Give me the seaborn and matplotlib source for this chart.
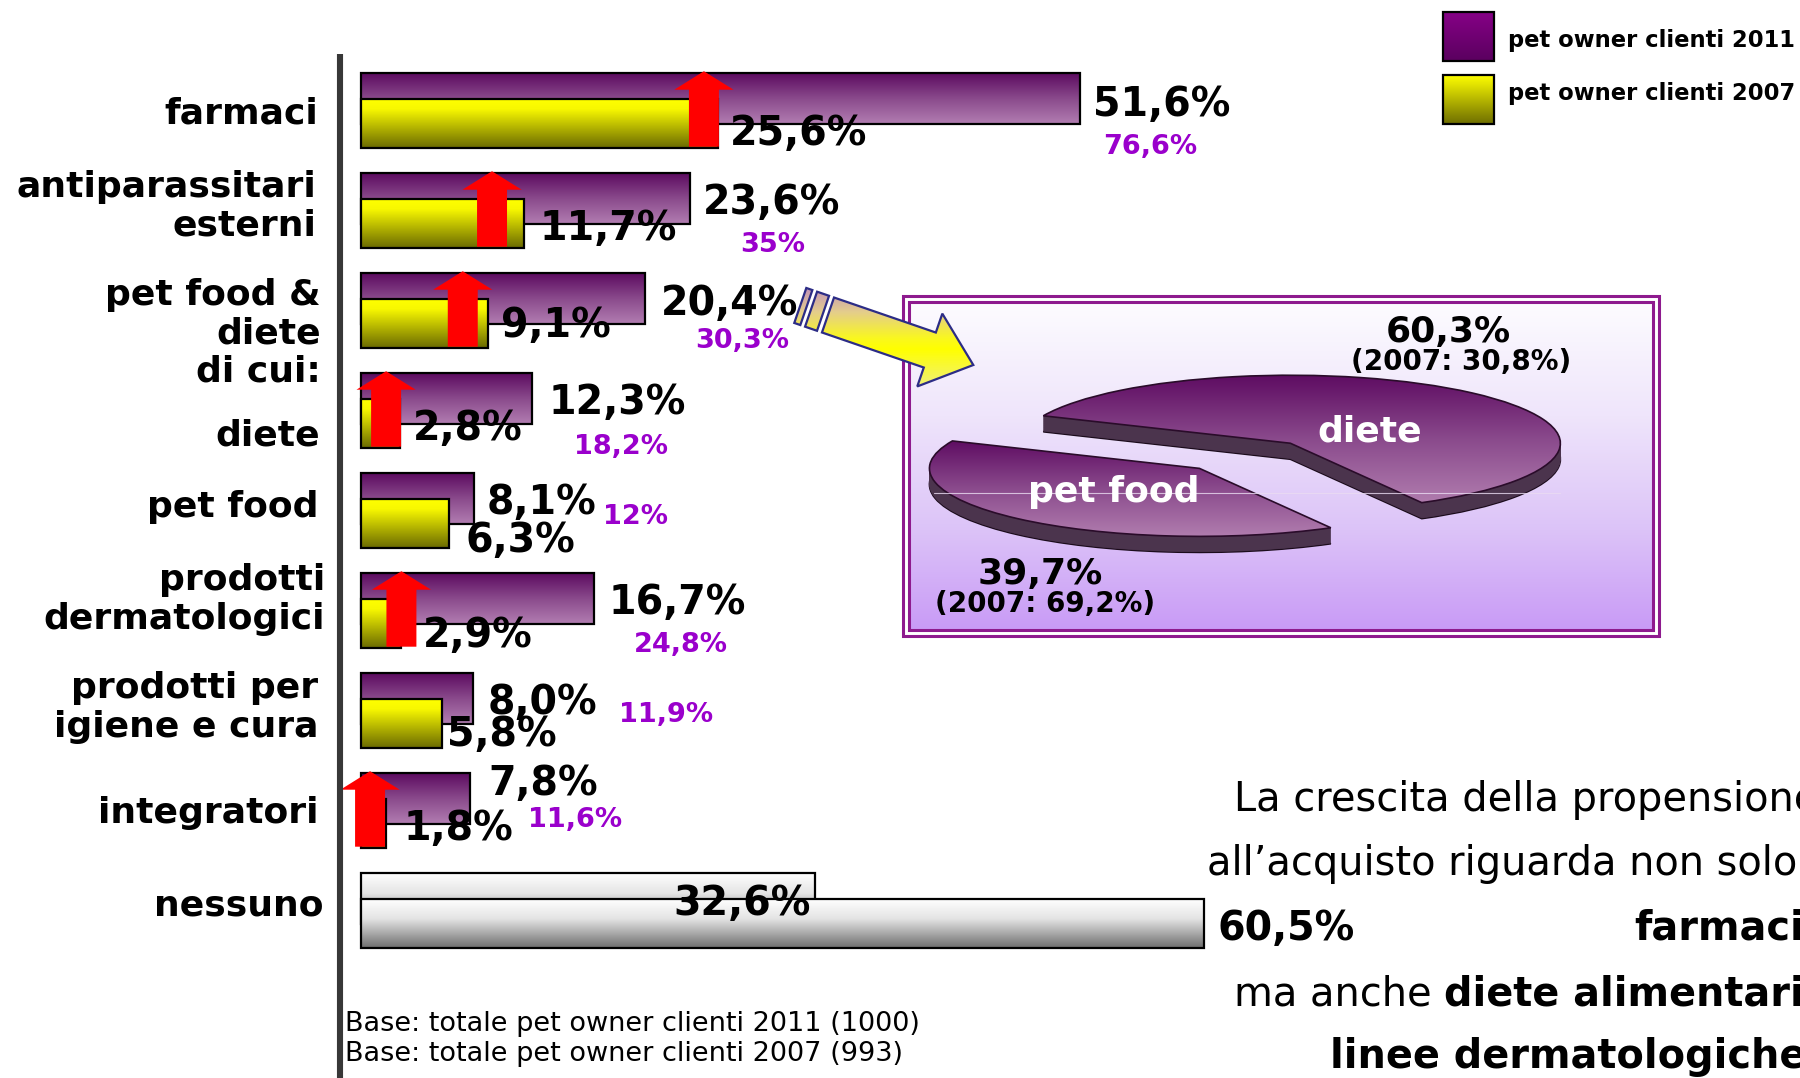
import numpy as np
import pandas as pd
import matplotlib
matplotlib.use("Agg")
import matplotlib.pyplot as plt
from matplotlib.colors import LinearSegmentedColormap
from matplotlib.patches import Rectangle, Polygon, FancyArrow
import seaborn as sns

sns.set_style("white")
plt.rcParams["font.family"] = ["DejaVu Sans"]

# ---------------- data ----------------
category_lines = [
    ["farmaci"],
    ["antiparassitari", "esterni"],
    ["pet food &", "diete", "di cui:"],
    ["diete"],
    ["pet food"],
    ["prodotti", "dermatologici"],
    ["prodotti per", "igiene e cura"],
    ["integratori"],
    ["nessuno"],
]
categories = [" ".join(c) for c in category_lines]
clienti_2011 = [51.6, 23.6, 20.4, 12.3, 8.1, 16.7, 8.0, 7.8, 32.6]
clienti_2007 = [25.6, 11.7, 9.1, 2.8, 6.3, 2.9, 5.8, 1.8, 60.5]
secondary_2011 = [76.6, 35, 30.3, 18.2, 12, 24.8, 11.9, 11.6]

pie_labels = ["diete", "pet food"]
pie_2011 = [60.3, 39.7]
pie_2007 = [30.8, 69.2]

legend_labels = ["pet owner clienti 2011", "pet owner clienti 2007"]
base_notes = ["Base: totale pet owner clienti 2011 (1000)",
              "Base: totale pet owner clienti 2007 (993)"]


def fmt1(v):
    return f"{v:.1f}".replace(".", ",") + "%"


def fmtg(v):
    return f"{v:g}".replace(".", ",") + "%"


# ---------------- layout (pixels) ----------------
W, H = 1800, 1078
X0, PX = 361.0, 13.94          # pixel of 0 % and pixels per percent point
ROW0, ROW = 72.7, 100.0        # top of first row, row pitch
H11, OFF07, H07 = 51.0, 26.5, 48.5

# growth arrows (percent position along the bar, None = no arrow)
arrow_at = [24.6, 9.4, 7.3, 1.8, None, 2.9, None, 0.65, None]
# label placement tweaks
lab11_dx = [13, 13, 15, 15.8, 12.7, 14.3, 14.8, 18.6, -5]
lab11_dy = [43, 41, 42, 41, 41, 41.5, 41, 22, 42.5]
lab07_dx = [12, 15.6, 13, 13.3, 16.7, 21.9, 4.8, 17.3, 13.3]
lab07_dy = [72.3, 67.3, 64, 67.3, 79, 74, 73.3, 67.3, 67.7]
sec_pos = [(70, "center", 81), (83, "center", 79), (97, "center", 75), (88.5, "center", 81),
           (129, "left", 51), (87, "center", 79), (146, "left", 49), (58, "left", 54)]
cat_x = [318, 316.5, 321, 320, 318.3, 325, 318.3, 318.3, 323.3]
cat_base = [124, 196.7, 304.5, 445, 516.7, 590, 698, 822.7, 915]
cat_lsp = 38.5

purple_cm = LinearSegmentedColormap.from_list("p", ["#5c0b60", "#8a4a8c", "#b27eb2"])
yellow_cm = LinearSegmentedColormap.from_list("y", [(0, "#ffff00"), (0.2, "#f8f800"), (1, "#6a6a00")])
gray_cm = LinearSegmentedColormap.from_list("g", [(0, "#ffffff"), (0.4, "#e4e4e4"), (1, "#6e6e6e")])
leg_p_cm = LinearSegmentedColormap.from_list("lp", ["#860086", "#5a005f"])
leg_y_cm = LinearSegmentedColormap.from_list("ly", ["#ffff00", "#6e6e00"])
box_cm = LinearSegmentedColormap.from_list(
    "b", [(0, "#fdfcff"), (0.35, "#efe5fb"), (0.7, "#dcc3f8"), (1, "#c99bf6")])
pie_cm = LinearSegmentedColormap.from_list("pie", ["#5e0c62", "#8a4a8c", "#b07cae"])
arrow_cm = LinearSegmentedColormap.from_list(
    "a", [(0, "#be8cbe"), (0.25, "#e4cd8c"), (0.5, "#faf81e"), (0.6, "#ffff00"), (1, "#eeee8c")])
GRAD = np.linspace(0, 1, 256).reshape(-1, 1)

fig = plt.figure(figsize=(W / 100, H / 100), dpi=100)
fig.patch.set_facecolor("white")


def pixel_axes(z):
    a = fig.add_axes([0, 0, 1, 1], zorder=z)
    a.set_xlim(0, W)
    a.set_ylim(H, 0)
    a.axis("off")
    return a


ax_bg = pixel_axes(0)
ax_bar = fig.add_axes([0, 0, 1, 1], zorder=1)
ax_fg = pixel_axes(3)

# ---------------- bars ----------------
n = len(categories)
rows = np.arange(n)
row_top = ROW0 + ROW * rows
df = pd.DataFrame({
    "categoria": categories,
    "v2011": clienti_2011,
    "v2007": clienti_2007,
    "y2011": row_top + H11 / 2,
    "y2007": row_top + OFF07 + H07 / 2,
})

k0 = len(ax_bar.patches)
sns.barplot(data=df, x="v2011", y="y2011", orient="y", native_scale=True,
            width=H11 / ROW, color="#7a3a7a", edgecolor="black", linewidth=1.6,
            errorbar=None, ax=ax_bar)
bars11 = list(ax_bar.patches[k0:])
k0 = len(ax_bar.patches)
sns.barplot(data=df, x="v2007", y="y2007", orient="y", native_scale=True,
            width=H07 / ROW, color="#cccc00", edgecolor="black", linewidth=1.6,
            errorbar=None, ax=ax_bar)
bars07 = list(ax_bar.patches[k0:])


def gradient_fill(ax, patch, cmap, z):
    x0, y0 = patch.get_x(), patch.get_y()
    w, h = patch.get_width(), patch.get_height()
    ax.imshow(GRAD, cmap=cmap, extent=(x0, x0 + w, y0 + h, y0), origin="upper",
              aspect="auto", interpolation="bilinear", zorder=z)
    patch.set_facecolor("none")
    patch.set_zorder(z + 0.1)


def row_of(patch, offset):
    return int(round((patch.get_y() + patch.get_height() / 2 - ROW0 - offset) / ROW))


for p in bars11:
    r = row_of(p, H11 / 2)
    gradient_fill(ax_bar, p, gray_cm if r == n - 1 else purple_cm, 2.0)
for p in bars07:
    r = row_of(p, OFF07 + H07 / 2)
    gradient_fill(ax_bar, p, gray_cm if r == n - 1 else yellow_cm, 3.0)

# red growth arrows
for i, ax_pos in enumerate(arrow_at):
    if ax_pos is None:
        continue
    y_bot = row_top[i] + OFF07 + H07 - 1
    y_tip = row_top[i] - 1.5
    ax_bar.add_patch(FancyArrow(ax_pos, y_bot, 0, y_tip - y_bot, width=2.15,
                                head_width=4.25, head_length=18.5,
                                length_includes_head=True, color="#ff0000",
                                linewidth=0, zorder=4))

ax_bar.set_xlim((0 - X0) / PX, (W - X0) / PX)
ax_bar.set_ylim(H, 0)
ax_bar.axis("off")

# vertical axis line
ax_fg.plot([340.3, 340.3], [54, H], color="#383838", lw=4.4, solid_capstyle="butt")


def txt(x, y, s, size, weight="bold", color="black", ha="left", va="baseline", ax=ax_fg, **kw):
    return ax.text(x, y, s, fontsize=size, fontweight=weight, color=color,
                   ha=ha, va=va, **kw)


# category labels
for i, lines in enumerate(category_lines):
    for j, line in enumerate(lines):
        txt(cat_x[i], cat_base[i] + j * cat_lsp, line, 26, ha="right")

# value labels
for i in range(n):
    end11 = X0 + PX * clienti_2011[i]
    end07 = X0 + PX * clienti_2007[i]
    ha11 = "right" if lab11_dx[i] < 0 else "left"
    txt(end11 + lab11_dx[i], row_top[i] + lab11_dy[i], fmt1(clienti_2011[i]), 28.5, ha=ha11, zorder=6)
    txt(end07 + lab07_dx[i], row_top[i] + lab07_dy[i], fmt1(clienti_2007[i]), 28.5, zorder=6)
    if i < len(secondary_2011):
        dx, ha, dy = sec_pos[i]
        txt(end11 + dx, row_top[i] + dy, fmtg(secondary_2011[i]), 19.5,
            color="#9a00cc", ha=ha, zorder=6)

# base notes
for j, note in enumerate(base_notes):
    txt(345, 1031 + 30 * j, note, 19.5, weight="normal")

# ---------------- legend ----------------
for j, (lab, cm) in enumerate(zip(legend_labels, [leg_p_cm, leg_y_cm])):
    y0 = 12 + 63 * j
    ax_fg.imshow(GRAD, cmap=cm, extent=(1443, 1494, y0 + 49, y0), origin="upper",
                 aspect="auto", zorder=5)
    ax_fg.add_patch(Rectangle((1443, y0), 51, 49, facecolor="none", edgecolor="black",
                              lw=1.6, zorder=5.1))
    txt(1508, 47.3 + 53 * j, lab, 16.3)

# ---------------- pie box ----------------
ax_bg.imshow(GRAD, cmap=box_cm, extent=(908.5, 1652.5, 629.5, 301.5), origin="upper",
             aspect="auto", zorder=1)
ax_bg.add_patch(Rectangle((902.5, 295.5), 756, 340, facecolor="none",
                          edgecolor="#8e1a8e", lw=2.2, zorder=2))
ax_bg.add_patch(Rectangle((908.5, 301.5), 744, 328, facecolor="none",
                          edgecolor="#8e1a8e", lw=2.2, zorder=2))
ax_bg.set_xlim(0, W)
ax_bg.set_ylim(H, 0)

# ---------------- exploded 3D pie ----------------
PCX, PCY, RX, RY = 1254.0, 453.3, 270.0, 68.0
bx0, bx1, by0, by1 = 907, 1654, 300, 632
ax_pie = fig.add_axes([bx0 / W, 1 - by1 / H, (bx1 - bx0) / W, (by1 - by0) / H], zorder=2)
pie_edge = 156.2
start = pie_edge - 360 * pie_2011[0] / 100
explode = [0.2, 0.3]
depth = 16 / RY
side = "#4b344d"
N = 24
for k in range(N, 0, -1):
    d = depth * k / N
    ax_pie.pie(pie_2011, explode=explode, startangle=start, counterclock=True,
               radius=1, center=(0, -d), colors=[side, side],
               wedgeprops=dict(edgecolor="#1c0c1c" if k == N else side,
                               linewidth=1.2 if k == N else 0.4))
tops, _ = ax_pie.pie(pie_2011, explode=explode, startangle=start, counterclock=True,
                     radius=1, center=(0, 0),
                     wedgeprops=dict(edgecolor="#2a0c2a", linewidth=1.2))
for w in tops:
    ext = w.get_path().get_extents()
    img = ax_pie.imshow(GRAD, cmap=pie_cm, extent=(ext.x0, ext.x1, ext.y0, ext.y1),
                        origin="upper", aspect="auto", interpolation="bilinear", zorder=5)
    img.set_clip_path(w)
    w.set_facecolor("none")
    w.set_zorder(6)
ax_pie.set_xlim((bx0 - PCX) / RX, (bx1 - PCX) / RX)
ax_pie.set_ylim((PCY - by1) / RY, (PCY - by0) / RY)
ax_pie.set_aspect("auto")
ax_pie.axis("off")

# faint light line across the pie
ax_fg.plot([934, 1560], [493, 493], color="#eadcf2", lw=0.8, alpha=0.8, zorder=2)

# pie labels
txt(1370, 441.7, pie_labels[0], 26, color="white", ha="center", zorder=6)
txt(1113.4, 501.7, pie_labels[1], 26, color="white", ha="center", zorder=6)
txt(1448, 341.7, fmt1(pie_2011[0]), 26, ha="center")
txt(1461, 370, f"(2007: {fmt1(pie_2007[0])})", 20, ha="center")
txt(1040, 584, fmt1(pie_2011[1]), 26, ha="center")
txt(1045.5, 611.7, f"(2007: {fmt1(pie_2007[1])})", 20, ha="center")

# ---------------- block arrow pointing at the pie ----------------
T = np.array([828.0, 315.0])
Hd = np.array([973.3, 365.0])
L = np.linalg.norm(Hd - T)
u = (Hd - T) / L
nv = np.array([-u[1], u[0]])
hl, sw, hw = 46.0, 18.5, 38.5


def at(s, t):
    return T + s * u + t * nv


body = [at(0, -sw), at(L - hl, -sw), at(L - hl, -hw), Hd, at(L - hl, hw), at(L - hl, sw), at(0, sw)]
stripe_a = [at(-17.9, -sw), at(-5.25, -sw), at(-5.25, sw), at(-17.9, sw)]
stripe_b = [at(-29.3, -sw), at(-22.9, -sw), at(-22.9, sw), at(-29.3, sw)]
for verts in (stripe_b, stripe_a, body):
    poly = Polygon(verts, closed=True, facecolor="none", edgecolor="#2c2c86",
                   lw=1.6, joinstyle="miter", zorder=8)
    ax_fg.add_patch(poly)
    img = ax_fg.imshow(GRAD, cmap=arrow_cm, extent=(780, 990, 392, 285), origin="upper",
                       aspect="auto", interpolation="bilinear", zorder=7.9)
    img.set_clip_path(poly)

# ---------------- commentary text ----------------
BODY = 28.7
txt(1818, 810.7, "La crescita della propensione", BODY, weight="normal", ha="right")
txt(1797, 875, "all’acquisto riguarda non solo", BODY, weight="normal", ha="right")
txt(1804, 940, "farmaci", BODY, ha="right")
bold4 = txt(1804, 1005, "diete alimentari", BODY, ha="right")
txt(1806, 1068, "linee dermatologiche", BODY, ha="right")
renderer = fig.canvas.get_renderer()
bb = bold4.get_window_extent(renderer=renderer)
txt(bb.x0 - 13, 1005, "ma anche", BODY, weight="normal", ha="right")

ax_fg.set_xlim(0, W)
ax_fg.set_ylim(H, 0)

fig.savefig("out.png", dpi=100, facecolor="white")
